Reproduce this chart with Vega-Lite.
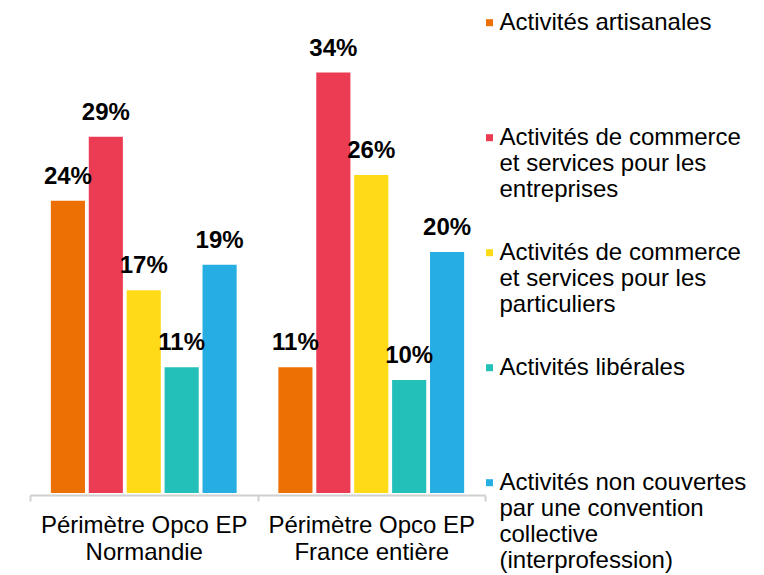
{
  "$schema": "https://vega.github.io/schema/vega-lite/v6.json",
  "width": 455,
  "height": 493,
  "padding": {"left": 29, "top": 0, "right": 0, "bottom": 0},
  "background": "white",
  "config": {
    "view": {"stroke": null},
    "font": "Liberation Sans"
  },
  "data": {
    "values": [
      {"perimetre": "Périmètre Opco EP Normandie", "activite": "Activités artisanales", "value": 0.24},
      {"perimetre": "Périmètre Opco EP Normandie", "activite": "Activités de commerce et services pour les entreprises", "value": 0.29},
      {"perimetre": "Périmètre Opco EP Normandie", "activite": "Activités de commerce et services pour les particuliers", "value": 0.17},
      {"perimetre": "Périmètre Opco EP Normandie", "activite": "Activités libérales", "value": 0.11},
      {"perimetre": "Périmètre Opco EP Normandie", "activite": "Activités non couvertes par une convention collective (interprofession)", "value": 0.19},
      {"perimetre": "Périmètre Opco EP France entière", "activite": "Activités artisanales", "value": 0.11},
      {"perimetre": "Périmètre Opco EP France entière", "activite": "Activités de commerce et services pour les entreprises", "value": 0.34},
      {"perimetre": "Périmètre Opco EP France entière", "activite": "Activités de commerce et services pour les particuliers", "value": 0.26},
      {"perimetre": "Périmètre Opco EP France entière", "activite": "Activités libérales", "value": 0.10},
      {"perimetre": "Périmètre Opco EP France entière", "activite": "Activités non couvertes par une convention collective (interprofession)", "value": 0.20}
    ]
  },
  "encoding": {
    "x": {
      "field": "perimetre",
      "type": "nominal",
      "sort": ["Périmètre Opco EP Normandie", "Périmètre Opco EP France entière"],
      "scale": {"paddingInner": 0, "paddingOuter": 0},
      "axis": {
        "title": null,
        "labelAngle": 0,
        "labelFont": "Liberation Sans",
        "labelFontSize": 24,
        "labelColor": "#000000",
        "labelLineHeight": 27.5,
        "labelLimit": 0,
        "labelPadding": 12,
        "labelBaseline": "top",
        "labelExpr": "datum.value == 'Périmètre Opco EP Normandie' ? ['Périmètre Opco EP', 'Normandie'] : datum.value == 'Périmètre Opco EP France entière' ? ['Périmètre Opco EP', 'France entière'] : ''",
        "domainColor": "#d0d0d0",
        "domainWidth": 2,
        "tickColor": "#d0d0d0",
        "tickWidth": 2,
        "tickSize": 6,
        "tickBand": "extent",
        "offset": 2,
        "grid": false
      }
    },
    "xOffset": {
      "field": "activite",
      "type": "nominal",
      "sort": [
        "Activités artisanales",
        "Activités de commerce et services pour les entreprises",
        "Activités de commerce et services pour les particuliers",
        "Activités libérales",
        "Activités non couvertes par une convention collective (interprofession)"
      ],
      "scale": {"paddingInner": 0.1, "paddingOuter": 0.55}
    },
    "y": {
      "field": "value",
      "type": "quantitative",
      "scale": {"domain": [0.0118, 0.3967], "zero": false, "nice": false},
      "axis": null
    }
  },
  "layer": [
    {
      "mark": {"type": "bar"},
      "encoding": {
        "y2": {"datum": 0.0118},
        "color": {
          "field": "activite",
          "type": "nominal",
          "scale": {
            "domain": [
              "Activités artisanales",
              "Activités de commerce et services pour les entreprises",
              "Activités de commerce et services pour les particuliers",
              "Activités libérales",
              "Activités non couvertes par une convention collective (interprofession)"
            ],
            "range": ["#ED7005", "#EC3C53", "#FFDA16", "#22C0B8", "#26ADE2"]
          },
          "legend": {
            "title": null,
            "orient": "none",
            "legendX": 447.5,
            "legendY": 10.7,
            "padding": 0,
            "symbolType": "square",
            "symbolSize": 49,
            "symbolStrokeWidth": 0,
            "labelFont": "Liberation Sans",
            "labelFontSize": 24,
            "labelColor": "#000000",
            "labelLineHeight": 27.3,
            "labelLimit": 300,
            "labelOffset": -2,
            "rowPadding": 13,
            "gridAlign": "all",
            "labelExpr": "datum.label == 'Activités de commerce et services pour les entreprises' ? ['Activités de commerce', 'et services pour les', 'entreprises'] : datum.label == 'Activités de commerce et services pour les particuliers' ? ['Activités de commerce', 'et services pour les', 'particuliers'] : datum.label == 'Activités non couvertes par une convention collective (interprofession)' ? ['Activités non couvertes', 'par une convention', 'collective', '(interprofession)'] : datum.label"
          }
        }
      }
    },
    {
      "mark": {
        "type": "text",
        "font": "Liberation Sans",
        "fontSize": 24,
        "fontWeight": "bold",
        "color": "#000000",
        "baseline": "alphabetic",
        "align": "center",
        "dy": -17
      },
      "encoding": {
        "text": {"field": "value", "type": "quantitative", "format": ".0%"}
      }
    }
  ]
}
